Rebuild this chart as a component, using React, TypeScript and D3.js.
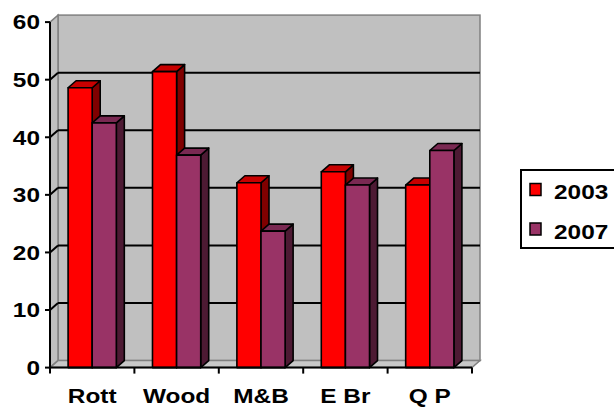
import React from "react";
import * as d3 from "d3";

// Survey results per site, two survey years
const categories = ["Rott", "Wood", "M&B", "E Br", "Q P"];
const seriesNames = ["2003", "2007"];
const values2003 = [48.6, 51.4, 32.1, 34.0, 31.7];
const values2007 = [42.5, 36.9, 23.7, 31.7, 37.7];
const yTicks = [0, 10, 20, 30, 40, 50, 60];

const W = 614;
const H = 408;

// Oblique depth of the pseudo-3D plot box
const DX = 8;
const DY = -7;

const FONT = "'Liberation Sans', Arial, sans-serif";
const STRETCH = 1.22;

const faceColors: Record<string, { front: string; top: string; side: string }> = {
  "2003": { front: "#ff0000", top: "#c80000", side: "#800000" },
  "2007": { front: "#993366", top: "#7a2952", side: "#4d1a33" },
};

export default function App() {
  const y = d3.scaleLinear().domain([0, 60]).range([367.6, 22.1]);
  const x = d3.scaleBand<string>().domain(categories).range([50, 472]).padding(0);
  const xs = d3
    .scaleBand<string>()
    .domain(seriesNames)
    .range([0, x.step()])
    .paddingInner(0)
    .paddingOuter(0.75);

  const y0 = y(0);
  const yTop = y(60);
  const xL = x.range()[0];
  const xR = x.range()[1];

  const seriesValues: Record<string, number[]> = { "2003": values2003, "2007": values2007 };

  const pts = (p: [number, number][]) => p.map((q) => q.join(",")).join(" ");

  const bars: React.ReactNode[] = [];
  categories.forEach((c, i) => {
    seriesNames.forEach((s) => {
      const v = seriesValues[s][i];
      const x0 = (x(c) as number) + (xs(s) as number);
      const x1 = x0 + xs.bandwidth();
      const yt = y(v);
      const col = faceColors[s];
      bars.push(
        <g key={c + s} stroke="#000" strokeWidth={1.6} strokeLinejoin="round">
          <polygon
            points={pts([[x1, yt], [x1 + DX, yt + DY], [x1 + DX, y0 + DY], [x1, y0]])}
            fill={col.side}
          />
          <polygon
            points={pts([[x0, yt], [x0 + DX, yt + DY], [x1 + DX, yt + DY], [x1, yt]])}
            fill={col.top}
          />
          <rect x={x0} y={yt} width={x1 - x0} height={y0 - yt} fill={col.front} />
        </g>
      );
    });
  });

  const stretchedText = (
    key: string,
    tx: number,
    ty: number,
    label: string,
    anchor: "start" | "middle" | "end"
  ) => (
    <text
      key={key}
      transform={`translate(${tx},${ty}) scale(${STRETCH},1)`}
      textAnchor={anchor}
      fontFamily={FONT}
      fontWeight="bold"
      fontSize={20}
      fill="#000"
    >
      {label}
    </text>
  );

  return (
    <svg
      width={W}
      height={H}
      style={{ position: "absolute", left: 0, top: 0, background: "#fff" }}
    >
      {/* back wall */}
      <rect
        x={xL + DX}
        y={yTop + DY}
        width={xR - xL}
        height={y0 - yTop}
        fill="#c0c0c0"
        stroke="#808080"
        strokeWidth={1.5}
      />
      {/* left side wall */}
      <polygon
        points={pts([[xL, yTop], [xL + DX, yTop + DY], [xL + DX, y0 + DY], [xL, y0]])}
        fill="#c0c0c0"
        stroke="#808080"
        strokeWidth={1.5}
      />
      {/* floor */}
      <polygon
        points={pts([[xL, y0], [xL + DX, y0 + DY], [xR + DX, y0 + DY], [xR, y0]])}
        fill="#c8c8c8"
        stroke="#808080"
        strokeWidth={1.5}
      />
      {/* gridlines on walls */}
      {yTicks
        .filter((t) => t > 0 && t < 60)
        .map((t) => (
          <g key={"g" + t} stroke="#000" strokeWidth={2}>
            <line x1={xL} y1={y(t)} x2={xL + DX} y2={y(t) + DY} />
            <line x1={xL + DX} y1={y(t) + DY} x2={xR + DX} y2={y(t) + DY} />
          </g>
        ))}

      {bars}

      {/* axes */}
      <g stroke="#000" strokeWidth={2}>
        <line x1={xL} y1={yTop} x2={xL} y2={y0} />
        <line x1={xL} y1={y0} x2={xR} y2={y0} />
        {yTicks.map((t) => (
          <line key={"yt" + t} x1={xL - 5} y1={y(t)} x2={xL} y2={y(t)} />
        ))}
        {d3.range(categories.length + 1).map((i) => {
          const xx = xL + i * x.step();
          return <line key={"xt" + i} x1={xx} y1={y0} x2={xx} y2={y0 + 6} />;
        })}
      </g>
      {yTicks.map((t) => stretchedText("yl" + t, 40, y(t) + 7.3, String(t), "end"))}
      {categories.map((c) =>
        stretchedText("xl" + c, (x(c) as number) + x.bandwidth() / 2, 402.6, c, "middle")
      )}

      {/* legend */}
      <rect x={521} y={170} width={96} height={78} fill="#fff" stroke="#000" strokeWidth={2} />
      {seriesNames.map((s, i) => {
        const cy = 189.5 + i * 39.5;
        return (
          <g key={"lg" + s}>
            <rect
              x={530}
              y={cy - 6}
              width={11}
              height={12}
              fill={faceColors[s].front}
              stroke="#000"
              strokeWidth={1.5}
            />
            {stretchedText("lt" + s, 554, cy + 9.5, s, "start")}
          </g>
        );
      })}
    </svg>
  );
}
